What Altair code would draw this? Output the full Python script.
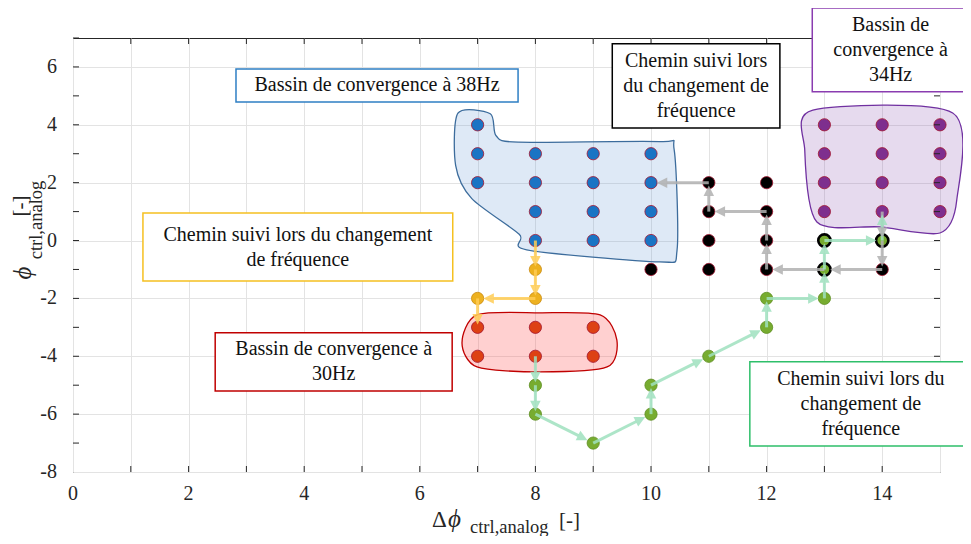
import math
import altair as alt
import pandas as pd

# ---------------- layout constants ----------------
W, H = 867, 434
XMIN, XMAX = 0, 15
YMIN, YMAX = -8, 7
SX = W / (XMAX - XMIN)
SY = H / (YMAX - YMIN)
FONT = "Liberation Serif"
LINE_H = 25

# ---------------- data ----------------
blue_x = [7, 7, 7, 8, 8, 8, 8, 9, 9, 9, 9, 10, 10, 10, 10]
blue_y = [4, 3, 2, 3, 2, 1, 0, 3, 2, 1, 0, 3, 2, 1, 0]

black_x = [10, 11, 11, 11, 11, 12, 12, 12, 12, 14]
black_y = [-1, 2, 1, 0, -1, 2, 1, 0, -1, -1]

purple_x = [13, 13, 13, 13, 14, 14, 14, 14, 15, 15, 15, 15]
purple_y = [4, 3, 2, 1, 4, 3, 2, 1, 4, 3, 2, 1]

orange_x = [8, 7, 8]
orange_y = [-1, -2, -2]

red_x = [7, 7, 8, 8, 9, 9]
red_y = [-3, -4, -3, -4, -3, -4]

green_x = [8, 8, 9, 10, 10, 11, 12, 12, 13]
green_y = [-5, -6, -7, -6, -5, -4, -3, -2, -2]

ringed_x = [13, 13, 14]
ringed_y = [-1, 0, 0]

# paths followed during the frequency change
orange_path_x = [8, 8, 8, 7, 7]
orange_path_y = [0, -1, -2, -2, -3]

green_path_x = [8, 8, 8, 9, 10, 10, 11, 12, 12, 13, 13, 13, 14, 14]
green_path_y = [-4, -5, -6, -7, -6, -5, -4, -3, -2, -2, -1, 0, 0, 1]

gray_path_x = [14, 14, 14, 13, 12, 12, 12, 11, 11, 10]
gray_path_y = [1, 0, -1, -1, -1, 0, 1, 1, 2, 2]

# basin outlines (hand-drawn blobs)
blob_blue_x = [6.66, 7.22, 7.32, 7.70, 10.15, 10.40, 10.45, 10.15, 7.85, 7.72, 6.90, 6.62]
blob_blue_y = [4.40, 4.38, 3.62, 3.40, 3.42, 3.15, -0.35, -0.74, -0.32, 0.22, 1.45, 2.60]

blob_red_x = [6.73, 6.99, 8.08, 9.12, 9.41, 9.24, 8.08, 6.99]
blob_red_y = [-3.54, -2.57, -2.50, -2.57, -3.44, -4.37, -4.54, -4.37]

blob_purple_x = [12.80, 15.22, 15.29, 15.00, 13.96, 12.87, 12.66]
blob_purple_y = [4.51, 4.41, 1.40, 0.26, 0.47, 0.64, 3.13]

# annotation boxes
box_text = [
    "Bassin de convergence à 38Hz",
    "Chemin suivi lors\ndu changement de\nfréquence",
    "Bassin de\nconvergence à\n34Hz",
    "Chemin suivi lors du changement\nde fréquence",
    "Bassin de convergence à\n30Hz",
    "Chemin suivi lors du\nchangement de\nfréquence",
]
box_x1 = [2.82, 9.33, 12.79, 1.21, 2.46, 11.71]
box_x2 = [7.70, 12.23, 15.50, 6.57, 6.56, 15.55]
box_y1 = [5.93, 6.80, 8.04, 0.95, -3.19, -4.19]
box_y2 = [4.79, 3.89, 5.14, -1.40, -5.20, -7.10]
box_color = ["#2E7FC4", "#000000", "#8A3CB0", "#F5C020", "#C00000", "#2EBF6A"]

x_ticks = list(range(0, 16))
y_ticks = list(range(-8, 8))
x_labels = ["0", "2", "4", "6", "8", "10", "12", "14"]
y_labels = ["-8", "-6", "-4", "-2", "0", "2", "4", "6"]

# ---------------- build tables ----------------
def pts(xs, ys, fill, stroke, sw):
    return pd.DataFrame({"x": xs, "y": ys, "fill": fill, "stroke": stroke, "sw": sw})

points = pd.concat([
    pts(blue_x, blue_y, "#1A74C4", "#A2142F", 0.8),
    pts(black_x, black_y, "#000000", "#A2142F", 0.8),
    pts(purple_x, purple_y, "#7E2F8E", "#A2142F", 0.8),
    pts(orange_x, orange_y, "#EDB120", "#C98A10", 0.8),
    pts(red_x, red_y, "#DD4114", "#A2142F", 0.8),
    pts(green_x, green_y, "#77AC30", "#5E8E22", 0.8),
    pts(ringed_x, ringed_y, "#77AC30", "#000000", 2.6),
], ignore_index=True)


def arrows(xs, ys, color):
    segs, heads = [], []
    for i in range(len(xs) - 1):
        x0, y0, x1, y1 = xs[i], ys[i], xs[i + 1], ys[i + 1]
        tx = x0 + 0.9 * (x1 - x0)
        ty = y0 + 0.9 * (y1 - y0)
        dxp = (x1 - x0) * SX
        dyp = -(y1 - y0) * SY
        L = math.hypot(dxp, dyp)
        ux, uy = dxp / L, dyp / L
        back = 10.0
        ex = tx - ux * back / SX
        ey = ty + uy * back / SY
        ang = math.degrees(math.atan2(ux, -uy)) % 360
        segs.append({"x": x0, "y": y0, "x2": ex, "y2": ey, "c": color})
        heads.append({"x": tx, "y": ty, "ang": ang, "c": color})
    return segs, heads


segs, heads = [], []
for xs, ys, c in [
    (gray_path_x, gray_path_y, "#B0B0B0"),
    (orange_path_x, orange_path_y, "#FFCC55"),
    (green_path_x, green_path_y, "#9FE0BE"),
]:
    s, h = arrows(xs, ys, c)
    segs += s
    heads += h
segs = pd.DataFrame(segs)
heads = pd.DataFrame(heads)

boxes = pd.DataFrame({
    "x1": box_x1, "x2": box_x2, "y1": box_y1, "y2": box_y2,
    "c": box_color, "t": box_text,
})
boxes["xm"] = (boxes.x1 + boxes.x2) / 2
nlines = boxes.t.str.count("\n")
# y of the first line so that the block is centred in its box
boxes["ym"] = (boxes.y1 + boxes.y2) / 2 + nlines * (LINE_H / 2) / SY

xscale = alt.Scale(domain=[XMIN, XMAX], nice=False, zero=False)
yscale = alt.Scale(domain=[YMIN, YMAX], nice=False, zero=False)

xaxis = alt.Axis(values=x_ticks, title=None, grid=True, ticks=False, domain=False,
                 labels=False, gridColor="#E3E3E3")
yaxis = alt.Axis(values=y_ticks, title=None, grid=True, ticks=False, domain=False,
                 labels=False, gridColor="#E3E3E3")

base = alt.Chart(pd.DataFrame({"x": [0], "y": [0]})).mark_point(opacity=0).encode(
    x=alt.X("x:Q", scale=xscale, axis=xaxis),
    y=alt.Y("y:Q", scale=yscale, axis=yaxis),
)


def blob(xs, ys, fill, stroke, op):
    df = pd.DataFrame({"x": xs, "y": ys, "i": range(len(xs))})
    return alt.Chart(df).mark_line(
        interpolate="cardinal-closed", tension=0.2, fill=fill, fillOpacity=op,
        stroke=stroke, strokeWidth=1.3,
    ).encode(x=alt.X("x:Q", scale=xscale), y=alt.Y("y:Q", scale=yscale), order="i:Q")


blobs = [
    blob(blob_blue_x, blob_blue_y, "#6A9BD6", "#3C6C9C", 0.22),
    blob(blob_red_x, blob_red_y, "#FF5555", "#C00000", 0.28),
    blob(blob_purple_x, blob_purple_y, "#8E55B0", "#7030A0", 0.22),
]

pts_layer = alt.Chart(points).mark_point(filled=True, size=150, opacity=1).encode(
    x=alt.X("x:Q", scale=xscale), y=alt.Y("y:Q", scale=yscale),
    fill=alt.Fill("fill:N", scale=None),
    stroke=alt.Stroke("stroke:N", scale=None),
    strokeWidth=alt.StrokeWidth("sw:Q", scale=None),
)

seg_layer = alt.Chart(segs).mark_rule(strokeWidth=3, opacity=0.85).encode(
    x=alt.X("x:Q", scale=xscale), y=alt.Y("y:Q", scale=yscale),
    x2="x2:Q", y2="y2:Q",
    color=alt.Color("c:N", scale=None),
)

head_layer = alt.Chart(heads).mark_point(
    shape="M0,0 L1,2 L-1,2 Z", filled=True, size=110, opacity=0.85, strokeWidth=0,
).encode(
    x=alt.X("x:Q", scale=xscale), y=alt.Y("y:Q", scale=yscale),
    angle=alt.Angle("ang:Q", scale=None),
    fill=alt.Fill("c:N", scale=None),
)

box_layer = alt.Chart(boxes).mark_rect(fill="white", strokeWidth=1.5).encode(
    x=alt.X("x1:Q", scale=xscale), x2="x2:Q",
    y=alt.Y("y1:Q", scale=yscale), y2="y2:Q",
    stroke=alt.Stroke("c:N", scale=None),
)
box_text_layer = alt.Chart(boxes).mark_text(
    font=FONT, fontSize=20, lineBreak="\n", lineHeight=LINE_H, color="#111111",
    align="center", baseline="middle",
).encode(
    x=alt.X("xm:Q", scale=xscale), y=alt.Y("ym:Q", scale=yscale), text="t:N",
)

# inward ticks on all four sides
xt = pd.DataFrame({"v": x_ticks[1:-1]})
yt = pd.DataFrame({"v": y_ticks[1:]})
tick_layers = [
    alt.Chart(xt).mark_rule(color="#262626").encode(
        x=alt.X("v:Q", scale=xscale), y=alt.value(H), y2=alt.value(H - 6)),
    alt.Chart(xt).mark_rule(color="#262626").encode(
        x=alt.X("v:Q", scale=xscale), y=alt.value(0), y2=alt.value(6)),
    alt.Chart(yt).mark_rule(color="#262626").encode(
        y=alt.Y("v:Q", scale=yscale), x=alt.value(0), x2=alt.value(6)),
    alt.Chart(yt).mark_rule(color="#262626").encode(
        y=alt.Y("v:Q", scale=yscale), x=alt.value(W), x2=alt.value(W - 6)),
]

# tick labels (serif, as in the reference)
xl = pd.DataFrame({"v": [int(s) for s in x_labels], "t": x_labels})
yl = pd.DataFrame({"v": [int(s) for s in y_labels], "t": y_labels})
label_layers = [
    alt.Chart(xl).mark_text(font=FONT, fontSize=20, color="#262626",
                            align="center", baseline="middle").encode(
        x=alt.X("v:Q", scale=xscale), y=alt.value(H + 22), text="t:N"),
    alt.Chart(yl).mark_text(font=FONT, fontSize=20, color="#262626",
                            align="right", baseline="middle").encode(
        y=alt.Y("v:Q", scale=yscale), x=alt.value(-16), text="t:N"),
]

# axis titles with subscripts
def txt(t, px, py, size, style="normal", angle=0, align="left", baseline="alphabetic"):
    return alt.Chart(pd.DataFrame({"t": [t]})).mark_text(
        font=FONT, fontSize=size, fontStyle=style, angle=angle, align=align,
        baseline=baseline, color="#262626",
    ).encode(x=alt.value(px), y=alt.value(py), text="t:N")

title_layers = [
    txt("Δ", 359, 489, 23),
    txt("ϕ", 375, 489, 25, style="italic"),
    txt("ctrl,analog", 397, 495, 18.5),
    txt("[-]", 486, 489, 21),
    txt("ϕ", -50, 235, 25, style="italic", angle=270, align="center", baseline="middle"),
    txt("ctrl,analog", -37, 182, 18.5, angle=270, align="center", baseline="middle"),
    txt("[-]", -52, 168, 21, angle=270, align="center", baseline="middle"),
]

chart = alt.layer(
    base, *blobs, pts_layer, seg_layer, head_layer, *tick_layers,
    box_layer, box_text_layer, *label_layers, *title_layers,
).properties(
    width=W, height=H,
    background="white",
    autosize=alt.AutoSizeParams(type="none"),
    padding={"left": 65, "top": 30, "right": 23, "bottom": 64},
).configure_view(
    stroke="#262626", strokeWidth=1
)

chart.save("out.html", embed_options={"renderer": "svg", "actions": False})
